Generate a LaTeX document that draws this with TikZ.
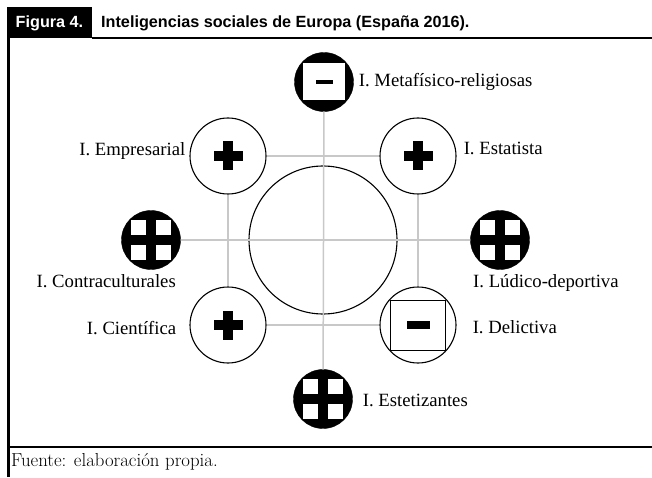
\documentclass[tikz,border=0pt]{standalone}
\usepackage{fontspec}
\newfontfamily\labfont{Liberation Serif}
\newfontfamily\headfont{Liberation Sans}
\usetikzlibrary{positioning}
\definecolor{gridgray}{RGB}{200,200,200}

\begin{document}
\begin{tikzpicture}[x=1pt, y=1pt,
      ring/.style={draw, circle, line width=1.1pt, fill=white, minimum size=76pt, inner sep=0pt},
      disc/.style={draw, circle, fill=black, minimum size=59pt, inner sep=0pt},
      plussign/.style={path picture={
          \fill[black] (path picture bounding box.center) ++(-14.5,-5) rectangle ++(29,10);
          \fill[black] (path picture bounding box.center) ++(-5,-14.5) rectangle ++(10,29);}},
      minusbox/.style={path picture={
          \draw[black, line width=0.9pt] (path picture bounding box.center) ++(-27.5,-25) rectangle ++(55,50);
          \fill[black] (path picture bounding box.center) ++(-11.5,-4) rectangle ++(23,8);}},
      crossbox/.style={path picture={
          \foreach \sx/\sy in {-20/-20, 5/-20, -20/5, 5/5}
            \fill[white] (path picture bounding box.center) ++(\sx,\sy) rectangle ++(15,15);}},
      metabox/.style={path picture={
          \fill[white] (path picture bounding box.center) ++(-21,-18.5) rectangle ++(42,37);
          \fill[black] (path picture bounding box.center) ++(-8.5,-2) rectangle ++(17,4);}},
      lab/.style={font=\labfont\fontsize{18.7}{22}\selectfont, inner sep=1pt},
      head/.style={font=\headfont\bfseries\fontsize{16.2}{18}\selectfont, inner sep=0pt},
      link/.style={draw=gridgray, line width=1.5pt}
    ]
    \useasboundingbox (0,0) rectangle (652,477);

    % header and frame
    \fill[black] (7,439) rectangle (92,470);
    \node[head, text=white, anchor=base] (tab) at (49.5,449) {Figura 4.};
    \node[head, anchor=base west] (title) at (101,449) {Inteligencias sociales de Europa (España 2016).};
    \draw[line width=2pt] (92,439) -- (652,439);
    \draw[line width=2.5pt] (8.25,439) -- (8.25,0);
    \draw[line width=1.5pt] (8,30) -- (652,30);
    \node[anchor=base west, font=\fontsize{18.8}{22}\selectfont, inner sep=0pt] (source) at (11,11) {Fuente: elaboración propia.};

    % circles
    \node[draw, circle, line width=1.1pt, minimum size=148pt] (core) at (323,237) {};
    \node[disc, metabox] (meta) at (324,395) {};
    \node[ring, plussign] (emp) at (228,321) {};
    \node[ring, plussign] (esta) at (418,321) {};
    \node[disc, crossbox] (contra) at (151,237) {};
    \node[disc, crossbox] (ludico) at (500,237) {};
    \node[ring, plussign] (cien) at (228,152) {};
    \node[ring, minusbox] (deli) at (418,152) {};
    \node[disc, crossbox] (este) at (323,78) {};

    \draw[link] (meta) -- (este);
    \draw[link] (contra) -- (ludico);
    \draw[link] (emp) -- (esta);
    \draw[link] (cien) -- (deli);
    \draw[link] (emp) -- (cien);
    \draw[link] (esta) -- (deli);

    % labels
    \node[lab, right=4pt of meta] (metalab) {I. Metafísico-religiosas};
    \node[lab, left=3pt of emp, yshift=5pt] (emplab) {I. Empresarial};
    \node[lab, right=6pt of esta, yshift=8pt] (estalab) {I. Estatista};
    \node[lab, below left=4pt and -26pt of contra.south] (contralab) {I. Contraculturales};
    \node[lab, below right=4pt and -28pt of ludico.south] (ludicolab) {I. Lúdico-deportiva};
    \node[lab, left=12pt of cien, yshift=-3pt] (cienlab) {I. Científica};
    \node[lab, right=15pt of deli, yshift=-2pt] (delilab) {I. Delictiva};
    \node[lab, right=9pt of este, yshift=-1pt] (estelab) {I. Estetizantes};
  \end{tikzpicture}
\end{document}
